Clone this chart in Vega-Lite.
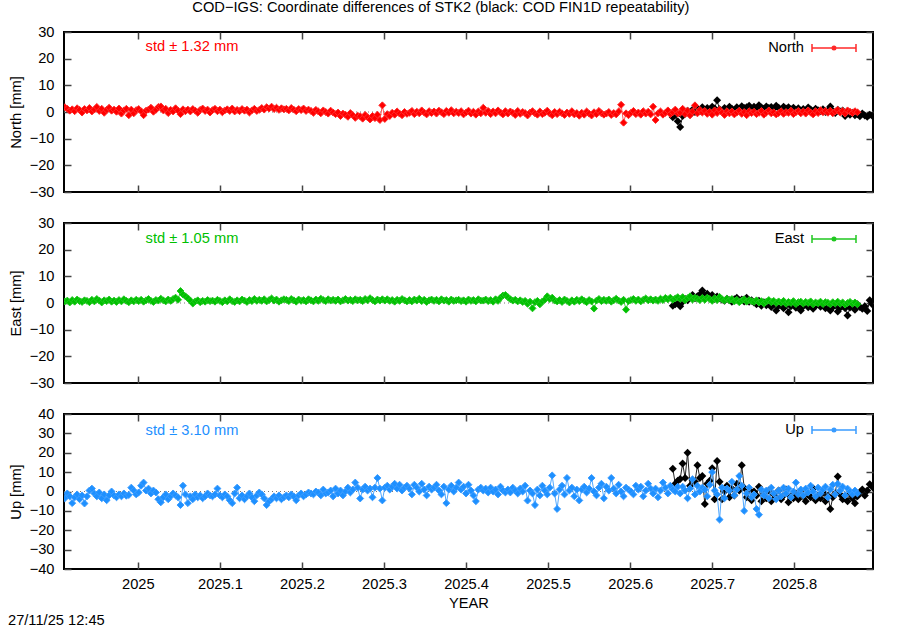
{
"$schema": "https://vega.github.io/schema/vega-lite/v6.json",
"background": "white",
"padding": {"top": 0, "left": 7, "right": 5, "bottom": 0},
"title": {"text": "COD−IGS: Coordinate differences of STK2 (black: COD FIN1D repeatability)", "anchor": "middle", "fontSize": 14.67, "fontWeight": "normal", "font": "Liberation Sans", "color": "black", "offset": 8},
"config": {
  "font": "Liberation Sans",
  "view": {"stroke": "black", "strokeWidth": 2},
  "axis": {"grid": false, "domain": false, "tickSize": -7, "tickWidth": 1.5, "tickColor": "#444", "labelFont": "Liberation Sans", "labelFontSize": 14.67, "labelColor": "black", "labelPadding": 17, "titleFont": "Liberation Sans", "titleFontSize": 14.67, "titleFontWeight": "normal", "titleColor": "black", "titlePadding": 6, "labelFlush": false, "labelOverlap": false},
  "legend": {"labelFont": "Liberation Sans", "labelFontSize": 14.67, "labelColor": "black"}
},
"resolve": {"scale": {"x": "independent", "y": "independent", "color": "independent"}},
"spacing": 14,
"datasets": {
"cod": [
{"t":2024.911,"n":1.8,"e":0.6,"u":-3.5},{"t":2024.914,"n":1.2,"e":0.9,"u":-1.0},{"t":2024.917,"n":0.5,"e":0.2,"u":-2.5},{"t":2024.920,"n":1.0,"e":1.1,"u":-6.0},{"t":2024.923,"n":0.3,"e":0.5,"u":-3.0},{"t":2024.926,"n":1.4,"e":1.3,"u":-1.5},{"t":2024.929,"n":0.8,"e":0.7,"u":-4.0},{"t":2024.932,"n":-0.2,"e":0.4,"u":-2.0},{"t":2024.935,"n":1.1,"e":1.0,"u":-6.2},{"t":2024.938,"n":0.6,"e":0.8,"u":-2.5},
{"t":2024.941,"n":1.5,"e":0.3,"u":0.5},{"t":2024.944,"n":0.2,"e":1.2,"u":1.5},{"t":2024.947,"n":0.9,"e":0.6,"u":-1.0},{"t":2024.950,"n":1.9,"e":1.5,"u":-2.5},{"t":2024.953,"n":0.4,"e":0.9,"u":-0.5},{"t":2024.956,"n":1.2,"e":0.2,"u":-3.5},{"t":2024.959,"n":-0.3,"e":1.0,"u":-1.5},{"t":2024.962,"n":0.8,"e":0.7,"u":-4.5},{"t":2024.965,"n":1.6,"e":1.3,"u":-2.0},{"t":2024.968,"n":0.5,"e":0.5,"u":0.0},
{"t":2024.971,"n":0.9,"e":0.9,"u":-2.0},{"t":2024.974,"n":0.1,"e":0.4,"u":-3.0},{"t":2024.977,"n":1.3,"e":1.1,"u":-1.5},{"t":2024.980,"n":-0.6,"e":0.6,"u":-2.5},{"t":2024.983,"n":0.6,"e":1.4,"u":-1.0},{"t":2024.986,"n":1.2,"e":0.8,"u":-2.2},{"t":2024.989,"n":-1.2,"e":0.3,"u":-1.8},{"t":2024.992,"n":0.9,"e":1.0,"u":2.0},{"t":2024.995,"n":-0.5,"e":0.6,"u":0.5},{"t":2024.998,"n":0.7,"e":1.2,"u":-1.5},
{"t":2025.001,"n":1.1,"e":0.7,"u":-0.5},{"t":2025.004,"n":0.3,"e":1.2,"u":3.0},{"t":2025.007,"n":-1.2,"e":0.5,"u":4.6},{"t":2025.010,"n":0.5,"e":1.0,"u":0.5},{"t":2025.013,"n":0.9,"e":1.5,"u":1.5},{"t":2025.016,"n":1.6,"e":0.8,"u":-1.0},{"t":2025.019,"n":0.1,"e":0.4,"u":0.5},{"t":2025.022,"n":0.8,"e":1.1,"u":-0.5},{"t":2025.025,"n":1.9,"e":0.9,"u":-4.0},{"t":2025.028,"n":2.1,"e":1.6,"u":-5.6},
{"t":2025.031,"n":0.6,"e":1.0,"u":-3.0},{"t":2025.034,"n":1.2,"e":0.6,"u":-1.5},{"t":2025.037,"n":-0.4,"e":1.3,"u":-4.0},{"t":2025.040,"n":0.8,"e":0.8,"u":-2.5},{"t":2025.043,"n":0.2,"e":1.5,"u":-1.0},{"t":2025.046,"n":1.4,"e":2.0,"u":-2.0},{"t":2025.049,"n":0.5,"e":1.2,"u":-3.0},{"t":2025.052,"n":-0.8,"e":4.5,"u":-7.0},{"t":2025.055,"n":1.0,"e":3.2,"u":3.0},{"t":2025.058,"n":0.3,"e":2.5,"u":-1.5},
{"t":2025.061,"n":0.9,"e":1.8,"u":-6.0},{"t":2025.064,"n":0.2,"e":0.9,"u":-2.5},{"t":2025.067,"n":1.1,"e":-0.2,"u":-4.0},{"t":2025.070,"n":0.5,"e":0.6,"u":-1.5},{"t":2025.073,"n":-0.3,"e":1.0,"u":-3.0},{"t":2025.076,"n":0.8,"e":0.3,"u":-2.0},{"t":2025.079,"n":1.3,"e":0.8,"u":-3.5},{"t":2025.082,"n":0.4,"e":0.5,"u":-2.5},{"t":2025.085,"n":0.9,"e":1.1,"u":-1.0},{"t":2025.088,"n":-0.2,"e":0.7,"u":-2.0},
{"t":2025.091,"n":0.7,"e":0.9,"u":-2.5},{"t":2025.094,"n":1.2,"e":0.5,"u":-1.5},{"t":2025.097,"n":0.3,"e":1.2,"u":1.5},{"t":2025.100,"n":0.9,"e":0.8,"u":-2.0},{"t":2025.103,"n":-0.1,"e":0.3,"u":-3.0},{"t":2025.106,"n":0.6,"e":1.0,"u":-1.5},{"t":2025.109,"n":1.0,"e":0.6,"u":-2.5},{"t":2025.112,"n":0.4,"e":1.4,"u":-4.5},{"t":2025.115,"n":1.3,"e":0.7,"u":-6.0},{"t":2025.118,"n":0.2,"e":0.4,"u":-1.0},
{"t":2025.121,"n":0.8,"e":1.0,"u":2.0},{"t":2025.124,"n":0.3,"e":0.6,"u":-3.5},{"t":2025.127,"n":1.1,"e":1.3,"u":-2.0},{"t":2025.130,"n":0.5,"e":0.9,"u":-4.0},{"t":2025.133,"n":0.9,"e":0.4,"u":-2.5},{"t":2025.136,"n":-0.2,"e":1.1,"u":-1.0},{"t":2025.139,"n":0.6,"e":0.7,"u":-3.0},{"t":2025.142,"n":1.2,"e":1.5,"u":-5.0},{"t":2025.145,"n":0.4,"e":0.8,"u":-2.0},{"t":2025.148,"n":0.8,"e":1.2,"u":-0.5},
{"t":2025.151,"n":1.5,"e":0.8,"u":-1.5},{"t":2025.154,"n":0.9,"e":1.4,"u":-3.5},{"t":2025.157,"n":1.8,"e":0.6,"u":-7.0},{"t":2025.160,"n":1.3,"e":1.1,"u":-5.0},{"t":2025.163,"n":2.0,"e":1.7,"u":-4.0},{"t":2025.166,"n":1.1,"e":0.9,"u":-2.5},{"t":2025.169,"n":1.6,"e":1.3,"u":-3.5},{"t":2025.172,"n":0.8,"e":0.5,"u":-2.0},{"t":2025.175,"n":1.4,"e":1.0,"u":-4.0},{"t":2025.178,"n":1.0,"e":1.4,"u":-3.0},
{"t":2025.181,"n":1.2,"e":1.2,"u":-2.0},{"t":2025.184,"n":0.6,"e":0.7,"u":-3.0},{"t":2025.187,"n":1.5,"e":1.5,"u":-1.5},{"t":2025.190,"n":0.9,"e":1.0,"u":-2.5},{"t":2025.193,"n":0.3,"e":0.5,"u":-4.5},{"t":2025.196,"n":1.1,"e":1.3,"u":-2.0},{"t":2025.199,"n":0.7,"e":0.8,"u":-1.0},{"t":2025.202,"n":1.3,"e":1.1,"u":-2.5},{"t":2025.205,"n":0.4,"e":0.6,"u":-1.5},{"t":2025.208,"n":0.9,"e":1.4,"u":-0.5},
{"t":2025.211,"n":0.4,"e":1.0,"u":-1.0},{"t":2025.214,"n":-0.3,"e":0.6,"u":-1.5},{"t":2025.217,"n":0.8,"e":1.3,"u":0.0},{"t":2025.220,"n":0.2,"e":0.8,"u":-0.5},{"t":2025.223,"n":-0.5,"e":1.6,"u":-2.0},{"t":2025.226,"n":0.6,"e":1.1,"u":1.0},{"t":2025.229,"n":0.0,"e":0.7,"u":-1.0},{"t":2025.232,"n":-0.6,"e":1.4,"u":-0.5},{"t":2025.235,"n":0.5,"e":0.9,"u":0.5},{"t":2025.238,"n":-0.2,"e":1.2,"u":-2.5},
{"t":2025.241,"n":-0.8,"e":0.8,"u":1.5},{"t":2025.244,"n":-0.2,"e":1.3,"u":-1.0},{"t":2025.247,"n":-1.5,"e":0.6,"u":0.5},{"t":2025.250,"n":-0.6,"e":1.0,"u":-2.0},{"t":2025.253,"n":-1.0,"e":1.5,"u":0.0},{"t":2025.256,"n":-1.8,"e":0.9,"u":2.0},{"t":2025.259,"n":-0.4,"e":1.2,"u":-0.5},{"t":2025.262,"n":-1.2,"e":0.7,"u":1.0},{"t":2025.265,"n":-2.2,"e":1.4,"u":4.6},{"t":2025.268,"n":-1.4,"e":1.0,"u":2.0},
{"t":2025.271,"n":-1.6,"e":1.2,"u":-3.6},{"t":2025.274,"n":-2.5,"e":0.7,"u":1.0},{"t":2025.277,"n":-1.1,"e":1.5,"u":2.5},{"t":2025.280,"n":-2.0,"e":1.0,"u":0.5},{"t":2025.283,"n":-2.8,"e":1.8,"u":1.5},{"t":2025.286,"n":-1.5,"e":1.1,"u":-3.0},{"t":2025.289,"n":-2.3,"e":0.6,"u":2.0},{"t":2025.292,"n":-1.0,"e":1.3,"u":7.0},{"t":2025.295,"n":-3.0,"e":0.9,"u":1.5},{"t":2025.298,"n":2.5,"e":1.4,"u":-4.6},
{"t":2025.301,"n":-2.6,"e":0.9,"u":2.0},{"t":2025.304,"n":-0.8,"e":1.4,"u":3.0},{"t":2025.307,"n":-1.5,"e":0.8,"u":1.0},{"t":2025.310,"n":-0.3,"e":1.1,"u":2.5},{"t":2025.313,"n":-1.0,"e":0.5,"u":4.0},{"t":2025.316,"n":0.2,"e":1.2,"u":1.5},{"t":2025.319,"n":-0.6,"e":0.8,"u":3.5},{"t":2025.322,"n":-1.2,"e":1.5,"u":0.5},{"t":2025.325,"n":0.0,"e":1.0,"u":2.0},{"t":2025.328,"n":-0.7,"e":0.6,"u":3.0},
{"t":2025.331,"n":-0.3,"e":1.1,"u":1.5},{"t":2025.334,"n":0.4,"e":0.6,"u":-1.5},{"t":2025.337,"n":-0.8,"e":1.3,"u":3.5},{"t":2025.340,"n":0.1,"e":0.9,"u":2.0},{"t":2025.343,"n":-0.5,"e":1.6,"u":0.0},{"t":2025.346,"n":0.6,"e":0.7,"u":4.0},{"t":2025.349,"n":-0.2,"e":1.2,"u":1.0},{"t":2025.352,"n":-0.9,"e":0.4,"u":-2.0},{"t":2025.355,"n":0.3,"e":1.0,"u":2.5},{"t":2025.358,"n":-0.4,"e":1.3,"u":1.0},
{"t":2025.361,"n":0.2,"e":0.8,"u":2.0},{"t":2025.364,"n":-0.6,"e":1.2,"u":3.5},{"t":2025.367,"n":0.5,"e":0.6,"u":0.5},{"t":2025.370,"n":-0.1,"e":1.4,"u":-1.5},{"t":2025.373,"n":-0.8,"e":0.9,"u":2.5},{"t":2025.376,"n":0.4,"e":1.1,"u":-6.0},{"t":2025.379,"n":-0.3,"e":0.5,"u":1.0},{"t":2025.382,"n":0.7,"e":1.3,"u":3.0},{"t":2025.385,"n":-0.5,"e":0.8,"u":0.0},{"t":2025.388,"n":0.1,"e":1.0,"u":2.0},
{"t":2025.391,"n":-0.4,"e":1.2,"u":4.6},{"t":2025.394,"n":0.3,"e":0.7,"u":1.0},{"t":2025.397,"n":-0.9,"e":1.0,"u":2.5},{"t":2025.400,"n":-0.2,"e":0.5,"u":-1.0},{"t":2025.403,"n":0.5,"e":1.3,"u":3.5},{"t":2025.406,"n":-0.6,"e":0.8,"u":0.5},{"t":2025.409,"n":0.1,"e":1.1,"u":-2.0},{"t":2025.412,"n":-1.0,"e":0.6,"u":-5.0},{"t":2025.415,"n":0.2,"e":1.4,"u":1.0},{"t":2025.418,"n":-0.5,"e":0.9,"u":2.0},
{"t":2025.421,"n":1.6,"e":0.9,"u":0.5},{"t":2025.424,"n":-0.3,"e":1.3,"u":1.5},{"t":2025.427,"n":0.4,"e":0.7,"u":-0.5},{"t":2025.430,"n":-0.8,"e":1.1,"u":2.0},{"t":2025.433,"n":0.2,"e":0.5,"u":0.0},{"t":2025.436,"n":-0.5,"e":1.4,"u":1.0},{"t":2025.439,"n":0.6,"e":0.8,"u":-1.5},{"t":2025.442,"n":-0.2,"e":2.0,"u":2.5},{"t":2025.445,"n":-0.9,"e":2.8,"u":0.5},{"t":2025.448,"n":0.3,"e":3.0,"u":-0.5},
{"t":2025.451,"n":-0.6,"e":2.2,"u":1.0},{"t":2025.454,"n":0.2,"e":1.4,"u":-0.5},{"t":2025.457,"n":-0.3,"e":0.9,"u":2.0},{"t":2025.460,"n":-1.1,"e":1.2,"u":0.5},{"t":2025.463,"n":0.4,"e":0.6,"u":-1.0},{"t":2025.466,"n":-0.7,"e":1.0,"u":1.5},{"t":2025.469,"n":0.0,"e":0.4,"u":0.0},{"t":2025.472,"n":-0.4,"e":0.8,"u":3.0},{"t":2025.475,"n":-1.3,"e":-0.3,"u":-4.7},{"t":2025.478,"n":-0.2,"e":0.5,"u":0.5},
{"t":2025.481,"n":0.3,"e":-2.0,"u":-1.0},{"t":2025.484,"n":-0.5,"e":0.3,"u":-7.0},{"t":2025.487,"n":-1.0,"e":0.8,"u":1.0},{"t":2025.490,"n":0.2,"e":-0.5,"u":-2.0},{"t":2025.493,"n":-0.8,"e":0.6,"u":3.0},{"t":2025.496,"n":-0.3,"e":1.2,"u":0.5},{"t":2025.499,"n":0.5,"e":2.5,"u":-1.5},{"t":2025.502,"n":-0.6,"e":1.5,"u":2.0},{"t":2025.505,"n":-1.2,"e":2.0,"u":8.3},{"t":2025.508,"n":0.0,"e":0.9,"u":-1.0},
{"t":2025.511,"n":-0.8,"e":0.6,"u":-9.0},{"t":2025.514,"n":0.1,"e":1.1,"u":1.0},{"t":2025.517,"n":-0.5,"e":0.4,"u":3.0},{"t":2025.520,"n":-1.1,"e":1.3,"u":-1.5},{"t":2025.523,"n":-0.2,"e":0.8,"u":7.0},{"t":2025.526,"n":-0.7,"e":0.2,"u":0.5},{"t":2025.529,"n":0.3,"e":1.0,"u":2.0},{"t":2025.532,"n":-0.9,"e":0.5,"u":-2.5},{"t":2025.535,"n":-0.4,"e":1.2,"u":1.0},{"t":2025.538,"n":-1.4,"e":0.7,"u":-4.6},
{"t":2025.541,"n":-0.3,"e":1.4,"u":1.0},{"t":2025.544,"n":-1.0,"e":0.8,"u":2.5},{"t":2025.547,"n":0.2,"e":0.3,"u":-0.5},{"t":2025.550,"n":-0.6,"e":1.1,"u":1.5},{"t":2025.553,"n":-1.3,"e":0.6,"u":7.0},{"t":2025.556,"n":-0.1,"e":-2.1,"u":0.0},{"t":2025.559,"n":-0.8,"e":0.9,"u":-2.0},{"t":2025.562,"n":0.4,"e":1.5,"u":2.0},{"t":2025.565,"n":-0.5,"e":0.7,"u":4.0},{"t":2025.568,"n":-1.0,"e":1.2,"u":-3.5},
{"t":2025.571,"n":-0.6,"e":0.8,"u":2.5},{"t":2025.574,"n":0.0,"e":1.3,"u":0.5},{"t":2025.577,"n":-1.1,"e":0.5,"u":7.0},{"t":2025.580,"n":-0.4,"e":1.0,"u":1.5},{"t":2025.583,"n":-0.9,"e":1.6,"u":-1.0},{"t":2025.586,"n":0.2,"e":0.9,"u":3.5},{"t":2025.589,"n":2.7,"e":0.4,"u":0.0},{"t":2025.592,"n":-4.0,"e":1.2,"u":-2.5},{"t":2025.595,"n":-0.5,"e":-2.5,"u":2.0},{"t":2025.598,"n":-1.2,"e":0.7,"u":1.0},
{"t":2025.601,"n":-0.3,"e":1.1,"u":0.0},{"t":2025.604,"n":0.4,"e":1.5,"u":-1.5},{"t":2025.607,"n":-0.8,"e":0.8,"u":3.0},{"t":2025.610,"n":-0.2,"e":1.3,"u":1.0},{"t":2025.613,"n":-1.0,"e":0.6,"u":2.5},{"t":2025.616,"n":0.3,"e":1.2,"u":-2.5},{"t":2025.619,"n":-0.6,"e":1.7,"u":0.5},{"t":2025.622,"n":0.1,"e":1.0,"u":4.0},{"t":2025.625,"n":-0.9,"e":1.4,"u":1.5},{"t":2025.628,"n":2.0,"e":0.9,"u":-1.0},
{"t":2025.631,"n":-3.0,"e":1.3,"u":1.5},{"t":2025.634,"n":-0.5,"e":0.8,"u":-3.0},{"t":2025.637,"n":0.2,"e":1.6,"u":0.5},{"t":2025.640,"n":-1.0,"e":1.1,"u":4.6},{"t":2025.643,"n":-0.3,"e":1.9,"u":2.0},{"t":2025.646,"n":0.6,"e":1.4,"u":-1.0},{"t":2025.649,"n":-0.8,"e":2.0,"u":3.0},{"t":2025.652,"n":-0.1,"e":1.2,"u":1.0},{"t":2025.655,"n":0.9,"e":1.7,"u":0.0},{"t":2025.658,"n":-0.6,"e":2.2,"u":2.5},
{"t":2025.661,"n":-0.3,"e":1.5,"u":-1.0},{"t":2025.664,"n":1.2,"e":2.2,"u":2.5},{"t":2025.667,"n":-0.8,"e":1.0,"u":0.5},{"t":2025.670,"n":0.5,"e":1.8,"u":-3.5},{"t":2025.673,"n":-1.2,"e":2.5,"u":1.5},{"t":2025.676,"n":0.2,"e":1.3,"u":6.3},{"t":2025.679,"n":2.5,"e":2.0,"u":-1.5},{"t":2025.682,"n":-0.5,"e":1.6,"u":3.0},{"t":2025.685,"n":0.8,"e":1.1,"u":0.0},{"t":2025.688,"n":-0.2,"e":1.9,"u":2.0},
{"t":2025.691,"n":0.4,"e":1.2,"u":1.0},{"t":2025.694,"n":-0.7,"e":2.0,"u":-2.5},{"t":2025.697,"n":0.1,"e":1.5,"u":3.5},{"t":2025.700,"n":-1.0,"e":0.8,"u":10.0},{"t":2025.703,"n":0.6,"e":1.8,"u":0.5},{"t":2025.706,"n":-0.4,"e":1.1,"u":-1.5},{"t":2025.709,"n":0.9,"e":2.3,"u":-14.5},{"t":2025.712,"n":-0.2,"e":1.4,"u":2.0},{"t":2025.715,"n":-1.1,"e":0.9,"u":-3.5},{"t":2025.718,"n":0.3,"e":1.6,"u":1.5},
{"t":2025.721,"n":-0.5,"e":1.0,"u":0.5},{"t":2025.724,"n":0.2,"e":1.5,"u":5.0},{"t":2025.727,"n":-0.9,"e":0.6,"u":-2.0},{"t":2025.730,"n":-0.2,"e":1.2,"u":1.0},{"t":2025.733,"n":0.5,"e":0.3,"u":8.0},{"t":2025.736,"n":-0.7,"e":0.9,"u":3.0},{"t":2025.739,"n":0.0,"e":1.4,"u":-10.0},{"t":2025.742,"n":-1.2,"e":0.5,"u":-1.0},{"t":2025.745,"n":0.3,"e":1.1,"u":2.0},{"t":2025.748,"n":-0.4,"e":0.7,"u":-3.0},
{"t":2025.751,"n":0.1,"e":0.4,"u":-1.5},{"t":2025.754,"n":-0.8,"e":1.0,"u":-9.0},{"t":2025.757,"n":-0.3,"e":0.2,"u":-12.0},{"t":2025.760,"n":0.4,"e":0.7,"u":1.0},{"t":2025.763,"n":-1.0,"e":-0.2,"u":-2.0},{"t":2025.766,"n":-0.2,"e":0.5,"u":0.5},{"t":2025.769,"n":0.6,"e":1.1,"u":-3.5},{"t":2025.772,"n":-0.5,"e":0.3,"u":2.0},{"t":2025.775,"n":-0.1,"e":0.8,"u":-1.0},{"t":2025.778,"n":-0.9,"e":0.0,"u":-4.0},
{"t":2025.781,"n":-0.4,"e":0.6,"u":0.5},{"t":2025.784,"n":0.3,"e":0.1,"u":-2.5},{"t":2025.787,"n":-0.7,"e":0.8,"u":2.0},{"t":2025.790,"n":0.0,"e":-0.3,"u":-1.0},{"t":2025.793,"n":-0.3,"e":0.4,"u":1.5},{"t":2025.796,"n":0.5,"e":0.0,"u":-3.0},{"t":2025.799,"n":-0.8,"e":0.7,"u":0.0},{"t":2025.802,"n":-0.1,"e":-0.4,"u":4.6},{"t":2025.805,"n":0.4,"e":0.3,"u":-1.5},{"t":2025.808,"n":-0.5,"e":0.5,"u":1.0},
{"t":2025.811,"n":0.2,"e":-0.2,"u":-2.0},{"t":2025.814,"n":-0.6,"e":0.4,"u":1.5},{"t":2025.817,"n":0.6,"e":0.0,"u":-0.5},{"t":2025.820,"n":-0.2,"e":0.6,"u":3.0},{"t":2025.823,"n":-0.9,"e":-0.5,"u":0.0},{"t":2025.826,"n":0.3,"e":0.2,"u":-2.5},{"t":2025.829,"n":-0.4,"e":-0.1,"u":2.0},{"t":2025.832,"n":0.7,"e":0.5,"u":-1.0},{"t":2025.835,"n":-0.1,"e":-0.4,"u":1.0},{"t":2025.838,"n":0.4,"e":0.3,"u":2.5},
{"t":2025.841,"n":-0.3,"e":0.1,"u":-3.0},{"t":2025.844,"n":0.5,"e":-0.5,"u":1.0},{"t":2025.847,"n":-0.5,"e":0.3,"u":3.5},{"t":2025.850,"n":0.2,"e":-0.2,"u":-1.5},{"t":2025.853,"n":0.8,"e":0.5,"u":4.0},{"t":2025.856,"n":-0.2,"e":-0.3,"u":0.5},{"t":2025.859,"n":0.4,"e":0.2,"u":2.5},{"t":2025.862,"n":-0.6,"e":-0.6,"u":-2.0},{"t":2025.865,"n":0.6,"e":0.0,"u":1.5},{"t":2025.868,"n":0.1,"e":0.4,"u":0.0},
{"t":2025.871,"n":-0.4,"e":-0.3,"u":-1.5},{"t":2025.874,"n":0.3,"e":0.2,"u":0.5},{"t":2025.877,"n":-0.1,"e":-0.5,"u":-1.0}
],
"fin": [
{"t":2025.652,"n":-2.0,"e":-1.0,"u":11.8},{"t":2025.655,"n":-1.0,"e":-0.5,"u":4.0},{"t":2025.658,"n":-3.5,"e":0.3,"u":5.5},{"t":2025.661,"n":-5.6,"e":-1.2,"u":6.5},{"t":2025.664,"n":-1.5,"e":0.5,"u":14.5},{"t":2025.667,"n":-0.5,"e":1.5,"u":7.0},{"t":2025.670,"n":0.5,"e":1.0,"u":20.0},{"t":2025.673,"n":-1.0,"e":2.2,"u":3.0},{"t":2025.676,"n":0.8,"e":3.0,"u":6.0},{"t":2025.679,"n":0.0,"e":1.8,"u":5.0},
{"t":2025.682,"n":1.2,"e":2.5,"u":13.5},{"t":2025.685,"n":0.3,"e":3.2,"u":7.0},{"t":2025.688,"n":1.8,"e":4.7,"u":8.0},{"t":2025.691,"n":0.6,"e":2.8,"u":-6.5},{"t":2025.694,"n":1.5,"e":3.5,"u":4.0},{"t":2025.697,"n":0.9,"e":2.0,"u":5.5},{"t":2025.700,"n":2.0,"e":3.0,"u":12.0},{"t":2025.703,"n":1.3,"e":1.5,"u":-4.0},{"t":2025.706,"n":4.4,"e":2.4,"u":15.7},{"t":2025.709,"n":1.0,"e":1.8,"u":5.0},
{"t":2025.712,"n":0.5,"e":1.2,"u":-4.0},{"t":2025.715,"n":1.5,"e":0.8,"u":0.0},{"t":2025.718,"n":0.8,"e":1.6,"u":3.0},{"t":2025.721,"n":2.0,"e":1.0,"u":-3.0},{"t":2025.724,"n":1.2,"e":0.5,"u":1.5},{"t":2025.727,"n":0.4,"e":1.4,"u":-2.0},{"t":2025.730,"n":1.8,"e":2.0,"u":4.0},{"t":2025.733,"n":1.0,"e":0.9,"u":0.5},{"t":2025.736,"n":2.2,"e":1.3,"u":13.5},{"t":2025.739,"n":1.5,"e":0.6,"u":2.0},
{"t":2025.742,"n":1.8,"e":2.0,"u":-3.0},{"t":2025.745,"n":2.3,"e":0.5,"u":1.0},{"t":2025.748,"n":1.2,"e":1.0,"u":-4.5},{"t":2025.751,"n":2.0,"e":0.2,"u":0.0},{"t":2025.754,"n":1.4,"e":-0.5,"u":-2.0},{"t":2025.757,"n":2.5,"e":0.8,"u":2.5},{"t":2025.760,"n":1.7,"e":-1.0,"u":-5.0},{"t":2025.763,"n":1.2,"e":0.3,"u":-1.0},{"t":2025.766,"n":2.1,"e":-0.8,"u":-3.5},{"t":2025.769,"n":1.5,"e":-0.2,"u":0.5},
{"t":2025.772,"n":1.9,"e":-1.5,"u":-5.0},{"t":2025.775,"n":1.1,"e":-0.5,"u":-1.5},{"t":2025.778,"n":2.3,"e":-2.8,"u":-3.0},{"t":2025.781,"n":1.6,"e":-1.0,"u":0.5},{"t":2025.784,"n":0.8,"e":-0.3,"u":-4.0},{"t":2025.787,"n":2.0,"e":-2.0,"u":-2.0},{"t":2025.790,"n":1.3,"e":-0.8,"u":1.0},{"t":2025.793,"n":1.8,"e":-3.5,"u":-5.5},{"t":2025.796,"n":1.0,"e":-1.2,"u":-2.5},{"t":2025.799,"n":1.6,"e":-0.5,"u":-3.5},
{"t":2025.802,"n":0.8,"e":-1.8,"u":-1.0},{"t":2025.805,"n":1.4,"e":-0.7,"u":-4.0},{"t":2025.808,"n":0.5,"e":-2.8,"u":0.5},{"t":2025.811,"n":1.1,"e":-1.2,"u":-2.5},{"t":2025.814,"n":0.3,"e":-0.4,"u":-5.0},{"t":2025.817,"n":1.7,"e":-1.6,"u":-1.5},{"t":2025.820,"n":0.9,"e":-0.9,"u":-3.0},{"t":2025.823,"n":0.4,"e":-2.2,"u":1.5},{"t":2025.826,"n":1.2,"e":-1.0,"u":-4.5},{"t":2025.829,"n":0.7,"e":-0.6,"u":-2.0},
{"t":2025.832,"n":0.3,"e":-1.4,"u":-3.5},{"t":2025.835,"n":1.0,"e":-0.5,"u":-0.5},{"t":2025.838,"n":0.0,"e":-2.0,"u":-5.0},{"t":2025.841,"n":0.7,"e":-1.0,"u":-2.0},{"t":2025.844,"n":2.1,"e":-2.8,"u":-9.0},{"t":2025.847,"n":0.4,"e":-1.5,"u":-3.0},{"t":2025.850,"n":-0.4,"e":-0.8,"u":-1.0},{"t":2025.853,"n":0.8,"e":-3.2,"u":7.7},{"t":2025.856,"n":0.2,"e":-1.8,"u":-1.5},{"t":2025.859,"n":0.6,"e":-1.0,"u":-4.0},
{"t":2025.862,"n":-1.5,"e":-2.0,"u":-2.0},{"t":2025.865,"n":-0.5,"e":-4.7,"u":-5.0},{"t":2025.868,"n":-1.0,"e":-1.7,"u":-1.0},{"t":2025.871,"n":-0.3,"e":-1.0,"u":-3.5},{"t":2025.874,"n":-1.2,"e":-2.5,"u":-6.0},{"t":2025.877,"n":-0.8,"e":-0.5,"u":-2.5},{"t":2025.880,"n":-1.6,"e":-1.5,"u":-0.5},{"t":2025.883,"n":-0.6,"e":-2.2,"u":1.0},{"t":2025.886,"n":-1.3,"e":-1.2,"u":-2.0},{"t":2025.889,"n":-1.8,"e":-3.0,"u":0.5},
{"t":2025.892,"n":-1.0,"e":1.0,"u":3.8},{"t":2025.895,"n":-1.4,"e":-0.5,"u":2.5}
]
},
"vconcat": [
{
 "width": 809, "height": 160,
 "resolve": {"axis": {"x": "independent", "y": "independent"}},
 "layer": [
  {"data": {"values": [{}]}, "mark": {"type": "rule", "color": "#777", "strokeDash": [1, 3], "strokeWidth": 1},
   "encoding": {"y": {"datum": 0, "type": "quantitative", "scale": {"domain": [-30, 30], "nice": false}, "axis": null}}},
  {"data": {"name": "fin"}, "mark": {"type": "line", "color": "#222", "strokeWidth": 1, "clip": true},
   "encoding": {
    "x": {"field": "t", "type": "quantitative", "scale": {"domain": [2024.91, 2025.896], "nice": false, "zero": false}, "axis": {"orient": "bottom", "values": [2025, 2025.1, 2025.2, 2025.3, 2025.4, 2025.5, 2025.6, 2025.7, 2025.8], "labels": false, "title": null}},
    "y": {"field": "n", "type": "quantitative", "scale": {"domain": [-30, 30], "nice": false}, "axis": {"orient": "left", "values": [-30, -20, -10, 0, 10, 20, 30], "format": "d", "title": "North [mm]"}}}},
  {"data": {"name": "fin"}, "mark": {"type": "point", "shape": "diamond", "filled": true, "size": 64, "color": "#000", "opacity": 1, "clip": true},
   "encoding": {"x": {"field": "t", "type": "quantitative", "axis": null}, "y": {"field": "n", "type": "quantitative", "axis": null}}},
  {"data": {"name": "cod"}, "mark": {"type": "line", "color": "#ff5050", "strokeWidth": 1, "clip": true},
   "encoding": {"x": {"field": "t", "type": "quantitative", "axis": null}, "y": {"field": "n", "type": "quantitative", "axis": null}}},
  {"data": {"name": "cod"}, "mark": {"type": "point", "shape": "diamond", "filled": false, "fill": "#ff0000", "fillOpacity": 1, "strokeWidth": 1, "size": 48, "opacity": 1, "clip": true},
   "encoding": {"x": {"field": "t", "type": "quantitative", "axis": null}, "y": {"field": "n", "type": "quantitative", "axis": null},
    "color": {"datum": "North", "type": "nominal", "scale": {"domain": ["North"], "range": ["#ff2a2a"]},
     "legend": {"orient": "none", "legendX": 747, "legendY": -7, "title": null, "padding": 0, "symbolType": "M-1,0H1M-1,-0.18V0.18M1,-0.18V0.18M-0.08,0A0.08,0.08 0 1 1 0.08,0A0.08,0.08 0 1 1 -0.08,0Z", "symbolSize": 1936, "symbolStrokeWidth": 1.5, "symbolFillColor": "#ff0000", "labelAlign": "right", "labelOffset": -53, "labelFontSize": 14.67}}}},
  {"data": {"values": [{}]}, "mark": {"type": "text", "text": "std ± 1.32 mm", "color": "#ff0000", "fontSize": 14.67, "align": "center", "baseline": "middle"},
   "encoding": {
    "x": {"datum": 2025.066, "type": "quantitative", "axis": {"orient": "top", "values": [2025, 2025.1, 2025.2, 2025.3, 2025.4, 2025.5, 2025.6, 2025.7, 2025.8], "labels": false, "title": null}},
    "y": {"datum": 24.4, "type": "quantitative", "axis": {"orient": "right", "values": [-30, -20, -10, 0, 10, 20, 30], "labels": false, "title": null}}}}
 ]
},
{
 "width": 809, "height": 160,
 "resolve": {"axis": {"x": "independent", "y": "independent"}},
 "layer": [
  {"data": {"values": [{}]}, "mark": {"type": "rule", "color": "#777", "strokeDash": [1, 3], "strokeWidth": 1},
   "encoding": {"y": {"datum": 0, "type": "quantitative", "scale": {"domain": [-30, 30], "nice": false}, "axis": null}}},
  {"data": {"name": "fin"}, "mark": {"type": "line", "color": "#222", "strokeWidth": 1, "clip": true},
   "encoding": {
    "x": {"field": "t", "type": "quantitative", "scale": {"domain": [2024.91, 2025.896], "nice": false, "zero": false}, "axis": {"orient": "bottom", "values": [2025, 2025.1, 2025.2, 2025.3, 2025.4, 2025.5, 2025.6, 2025.7, 2025.8], "labels": false, "title": null}},
    "y": {"field": "e", "type": "quantitative", "scale": {"domain": [-30, 30], "nice": false}, "axis": {"orient": "left", "values": [-30, -20, -10, 0, 10, 20, 30], "format": "d", "title": "East [mm]"}}}},
  {"data": {"name": "fin"}, "mark": {"type": "point", "shape": "diamond", "filled": true, "size": 64, "color": "#000", "opacity": 1, "clip": true},
   "encoding": {"x": {"field": "t", "type": "quantitative", "axis": null}, "y": {"field": "e", "type": "quantitative", "axis": null}}},
  {"data": {"name": "cod"}, "mark": {"type": "line", "color": "#40cc40", "strokeWidth": 1, "clip": true},
   "encoding": {"x": {"field": "t", "type": "quantitative", "axis": null}, "y": {"field": "e", "type": "quantitative", "axis": null}}},
  {"data": {"name": "cod"}, "mark": {"type": "point", "shape": "diamond", "filled": false, "fill": "#00c000", "fillOpacity": 1, "strokeWidth": 1, "size": 48, "opacity": 1, "clip": true},
   "encoding": {"x": {"field": "t", "type": "quantitative", "axis": null}, "y": {"field": "e", "type": "quantitative", "axis": null},
    "color": {"datum": "East", "type": "nominal", "scale": {"domain": ["East"], "range": ["#20c820"]},
     "legend": {"orient": "none", "legendX": 747, "legendY": -7, "title": null, "padding": 0, "symbolType": "M-1,0H1M-1,-0.18V0.18M1,-0.18V0.18M-0.08,0A0.08,0.08 0 1 1 0.08,0A0.08,0.08 0 1 1 -0.08,0Z", "symbolSize": 1936, "symbolStrokeWidth": 1.5, "symbolFillColor": "#00c000", "labelAlign": "right", "labelOffset": -53, "labelFontSize": 14.67}}}},
  {"data": {"values": [{}]}, "mark": {"type": "text", "text": "std ± 1.05 mm", "color": "#00c000", "fontSize": 14.67, "align": "center", "baseline": "middle"},
   "encoding": {
    "x": {"datum": 2025.066, "type": "quantitative", "axis": {"orient": "top", "values": [2025, 2025.1, 2025.2, 2025.3, 2025.4, 2025.5, 2025.6, 2025.7, 2025.8], "labels": false, "title": null}},
    "y": {"datum": 24.0, "type": "quantitative", "axis": {"orient": "right", "values": [-30, -20, -10, 0, 10, 20, 30], "labels": false, "title": null}}}}
 ]
},
{
 "width": 809, "height": 155,
 "resolve": {"axis": {"x": "independent", "y": "independent"}},
 "title": {"text": "27/11/25 12:45", "orient": "bottom", "anchor": "start", "frame": "group", "dx": -56, "offset": 3, "fontSize": 14.67, "fontWeight": "normal", "font": "Liberation Sans", "color": "black"},
 "layer": [
  {"data": {"values": [{}]}, "mark": {"type": "rule", "color": "#777", "strokeDash": [1, 3], "strokeWidth": 1},
   "encoding": {"y": {"datum": 0, "type": "quantitative", "scale": {"domain": [-40, 40], "nice": false}, "axis": null}}},
  {"data": {"name": "fin"}, "mark": {"type": "line", "color": "#222", "strokeWidth": 1, "clip": true},
   "encoding": {
    "x": {"field": "t", "type": "quantitative", "scale": {"domain": [2024.91, 2025.896], "nice": false, "zero": false}, "axis": {"orient": "bottom", "values": [2025, 2025.1, 2025.2, 2025.3, 2025.4, 2025.5, 2025.6, 2025.7, 2025.8], "format": ".5~g", "labels": true, "labelPadding": 14, "title": "YEAR", "titlePadding": 5}},
    "y": {"field": "u", "type": "quantitative", "scale": {"domain": [-40, 40], "nice": false}, "axis": {"orient": "left", "values": [-40, -30, -20, -10, 0, 10, 20, 30, 40], "format": "d", "title": "Up [mm]"}}}},
  {"data": {"name": "fin"}, "mark": {"type": "point", "shape": "diamond", "filled": true, "size": 64, "color": "#000", "opacity": 1, "clip": true},
   "encoding": {"x": {"field": "t", "type": "quantitative", "axis": null}, "y": {"field": "u", "type": "quantitative", "axis": null}}},
  {"data": {"name": "cod"}, "mark": {"type": "line", "color": "#50a8ff", "strokeWidth": 1, "clip": true},
   "encoding": {"x": {"field": "t", "type": "quantitative", "axis": null}, "y": {"field": "u", "type": "quantitative", "axis": null}}},
  {"data": {"name": "cod"}, "mark": {"type": "point", "shape": "diamond", "filled": false, "fill": "#1e90ff", "fillOpacity": 1, "strokeWidth": 1, "size": 48, "opacity": 1, "clip": true},
   "encoding": {"x": {"field": "t", "type": "quantitative", "axis": null}, "y": {"field": "u", "type": "quantitative", "axis": null},
    "color": {"datum": "Up", "type": "nominal", "scale": {"domain": ["Up"], "range": ["#3a9cff"]},
     "legend": {"orient": "none", "legendX": 747, "legendY": -7, "title": null, "padding": 0, "symbolType": "M-1,0H1M-1,-0.18V0.18M1,-0.18V0.18M-0.08,0A0.08,0.08 0 1 1 0.08,0A0.08,0.08 0 1 1 -0.08,0Z", "symbolSize": 1936, "symbolStrokeWidth": 1.5, "symbolFillColor": "#1e90ff", "labelAlign": "right", "labelOffset": -53, "labelFontSize": 14.67}}}},
  {"data": {"values": [{}]}, "mark": {"type": "text", "text": "std ± 3.10 mm", "color": "#1e90ff", "fontSize": 14.67, "align": "center", "baseline": "middle"},
   "encoding": {
    "x": {"datum": 2025.066, "type": "quantitative", "axis": {"orient": "top", "values": [2025, 2025.1, 2025.2, 2025.3, 2025.4, 2025.5, 2025.6, 2025.7, 2025.8], "labels": false, "title": null}},
    "y": {"datum": 31.3, "type": "quantitative", "axis": {"orient": "right", "values": [-40, -30, -20, -10, 0, 10, 20, 30, 40], "labels": false, "title": null}}}}
 ]
}
]
}
